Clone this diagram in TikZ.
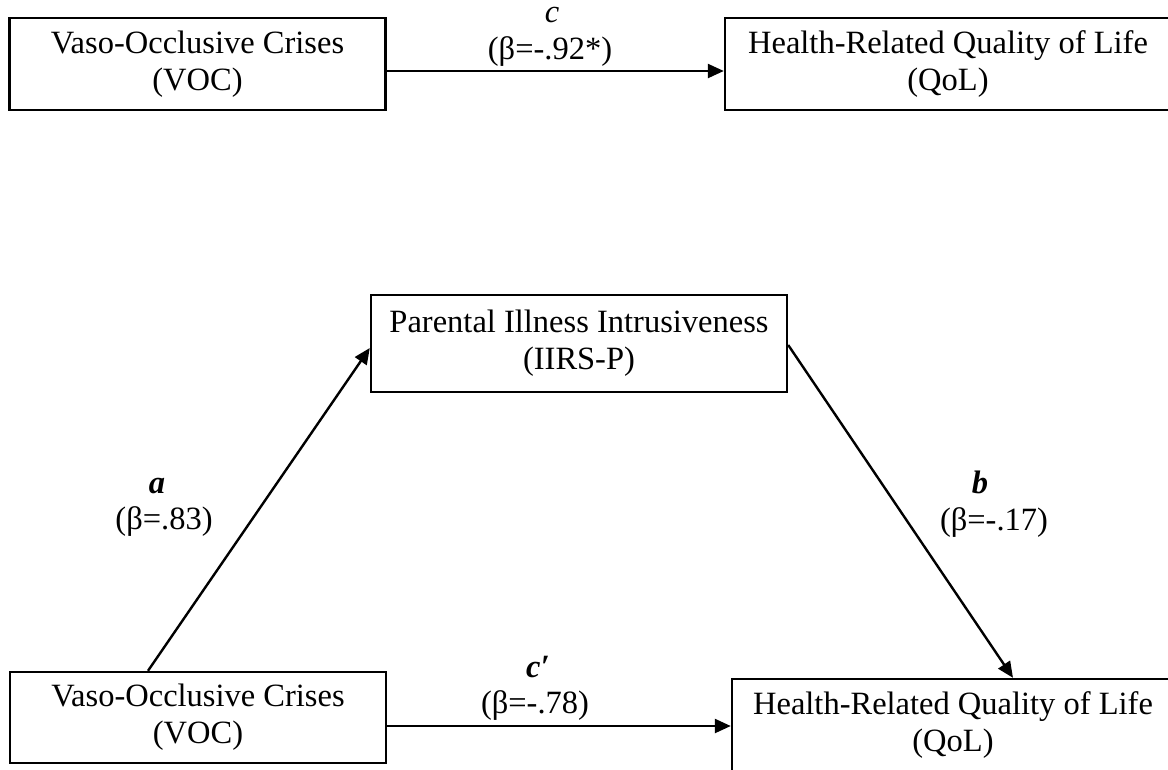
\documentclass[tikz,border=0pt]{standalone}
\usepackage{fontspec}
\setmainfont{Liberation Serif}
\usetikzlibrary{arrows.meta}
\tikzset{
  varbox/.style={draw, line width=2.4pt, align=center, inner sep=0pt, font=\fontsize{32.5}{37}\selectfont},
  conn/.style={line width=2.4pt, -{Triangle[length=16pt,width=14pt]}},
  lbl/.style={anchor=base, inner sep=0pt, font=\fontsize{32.5}{37}\selectfont}
}
\begin{document}
\begin{tikzpicture}[x=1pt,y=-1pt]
\useasboundingbox (0,0) rectangle (1168,769);
\clip (0,0) rectangle (1168,769);
% top model
\node[varbox, minimum width=376pt, minimum height=92pt] (voc1) at (197.5,64) {Vaso-Occlusive Crises\\(VOC)};
\node[varbox, minimum width=446pt, minimum height=92pt] (qol1) at (948,64) {Health-Related Quality of Life\\(QoL)};
\draw[conn] ([yshift=-7pt]voc1.east) -- ([yshift=-7pt]voc1.east -| qol1.west);
\node[lbl] (lc) at (552,22) {\textit{c}};
\node[lbl] (lcb) at (550,59) {(β=-.92*)};
% mediation model
\node[varbox, minimum width=416pt, minimum height=97pt] (iirs) at (579,343.5) {Parental Illness Intrusiveness\\(IIRS-P)};
\node[varbox, minimum width=376pt, minimum height=91pt] (voc2) at (198,717.5) {Vaso-Occlusive Crises\\(VOC)};
\node[varbox, minimum width=442pt, minimum height=92pt] (qol2) at (953,725) {Health-Related Quality of Life\\(QoL)};
\draw[conn] ([xshift=-50pt]voc2.north) -- ([yshift=-4.5pt]iirs.west);
\draw[conn] ([yshift=-1.5pt]iirs.east) -- ([xshift=60pt]qol2.north);
\draw[conn] ([yshift=-8.5pt]voc2.east) -- ([yshift=-8.5pt]voc2.east -| qol2.west);
\node[lbl] (la) at (157,493) {\textbf{\textit{a}}};
\node[lbl] (lab) at (164,529) {(β=.83)};
\node[lbl] (lb) at (980,493) {\textbf{\textit{b}}};
\node[lbl] (lbb) at (994,530) {(β=-.17)};
\node[lbl] (lcp) at (538,677) {\textbf{\textit{c′}}};
\node[lbl] (lcpb) at (535,713) {(β=-.78)};
\end{tikzpicture}
\end{document}
